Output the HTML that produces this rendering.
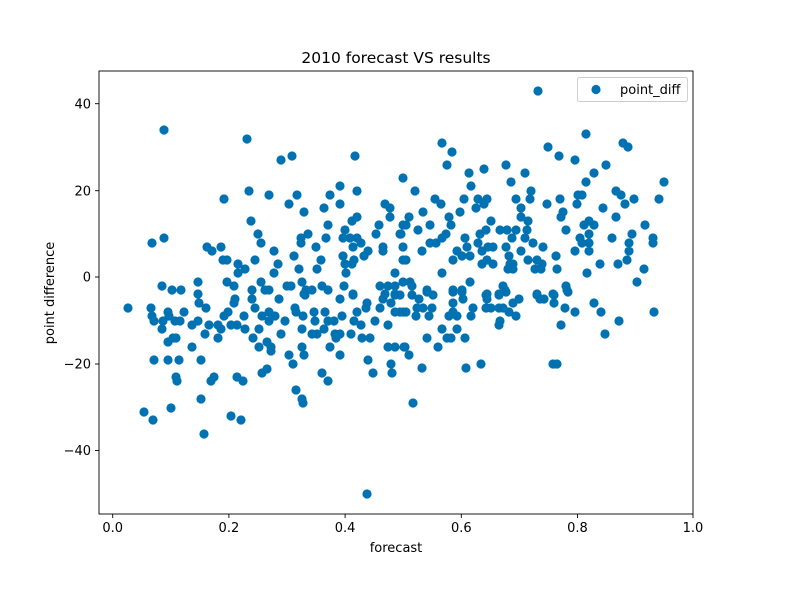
<!DOCTYPE html>
<html><head><meta charset="utf-8"><style>
html,body{margin:0;padding:0;background:#fff;}
svg{display:block;font-family:"DejaVu Sans","Liberation Sans",sans-serif;}
</style></head><body>
<svg width="792" height="602" viewBox="0 0 792 602" xmlns="http://www.w3.org/2000/svg">
<rect width="792" height="602" fill="#fff"/>
<path fill="none" stroke="#0072b2" stroke-width="9.2" stroke-linecap="round" d="
M164 130h0M247 139h0M281 160h0M292 156h0M355 156h0M403 178h0M224 199h0M249 191h0M269 195h0M289 204h0M297 195h0M304 212h0M340 186h0M340 204h0M330 195h0M324 208h0M357 191h0M385 204h0M390 208h0M390 217h0M379 225h0M376 234h0M403 225h0M401 234h0M403 247h0M251 221h0M258 234h0M261 243h0M152 243h0M164 238h0M207 247h0M212 251h0M221 247h0M223 260h0M227 260h0M238 264h0M238 273h0M245 269h0M255 260h0M274 251h0M278 264h0M274 273h0M294 256h0M299 269h0M301 238h0M301 243h0M308 234h0M316 247h0M321 260h0M317 269h0M326 238h0M328 225h0M345 230h0M343 238h0M350 238h0M357 238h0M353 247h0M361 243h0M352 221h0M357 217h0M343 256h0M345 264h0M354 260h0M352 264h0M346 273h0M364 256h0M368 251h0M383 247h0M383 251h0M395 273h0M403 260h0M403 282h0M162 286h0M172 290h0M181 290h0M198 282h0M198 294h0M227 282h0M234 286h0M252 290h0M261 282h0M265 290h0M269 290h0M287 286h0M291 286h0M302 282h0M306 290h0M312 290h0M304 294h0M322 286h0M328 290h0M344 286h0M353 294h0M380 286h0M388 286h0M395 286h0M385 294h0M395 294h0
M128 308h0M151 308h0M152 316h0M154 321h0M163 321h0M168 312h0M169 316h0M175 321h0M180 321h0M162 329h0M168 342h0M173 338h0M176 338h0M154 360h0M168 360h0M179 360h0M176 377h0M177 381h0M144 412h0M153 420h0M171 408h0M201 399h0M204 434h0M231 416h0M241 420h0M237 377h0M243 381h0M211 381h0M214 377h0M201 360h0M192 347h0M192 325h0M198 321h0M184 312h0M199 303h0M206 308h0M205 334h0M209 325h0M218 325h0M221 329h0M218 338h0M224 316h0M228 312h0M231 325h0M237 325h0M234 303h0M235 299h0M245 329h0M244 316h0M252 299h0M255 308h0M253 338h0M259 329h0M259 347h0M262 316h0M267 342h0M271 347h0M271 351h0M262 373h0M267 369h0M269 312h0M275 316h0M269 321h0M279 299h0M281 334h0M285 321h0M289 355h0M293 364h0M295 308h0M296 312h0M303 316h0M302 329h0M302 347h0M304 355h0M296 390h0M302 399h0M303 403h0M305 295h0M314 312h0M315 321h0M312 334h0M317 334h0M325 312h0M324 329h0M330 347h0M322 373h0M328 381h0M328 321h0M334 321h0M335 334h0M336 338h0M340 334h0M342 316h0M340 355h0M340 299h0M351 334h0M353 295h0M354 321h0M357 312h0M361 325h0M362 338h0M370 338h0M368 360h0M373 373h0M375 321h0M367 303h0M366 308h0M380 308h0M383 299h0M388 325h0M391 303h0M388 347h0M395 347h0M391 364h0M392 373h0M395 295h0M395 312h0M403 312h0M404 347h0M367 494h0
M538 91h0M442 143h0M452 152h0M447 165h0M469 173h0M471 186h0M484 169h0M506 165h0M511 182h0M525 173h0M531 191h0M530 199h0M516 199h0M521 208h0M521 217h0M528 221h0M527 230h0M525 238h0M533 243h0M543 247h0M548 147h0M559 156h0M575 160h0M586 134h0M623 143h0M628 147h0M606 165h0M594 173h0M586 182h0M582 195h0M578 195h0M577 204h0M560 199h0M547 204h0M563 212h0M561 217h0M566 230h0M584 225h0M589 221h0M594 225h0M580 238h0M582 243h0M589 234h0M589 243h0M589 251h0M575 251h0M556 256h0M557 269h0M537 260h0M535 269h0M542 264h0M541 269h0M528 260h0M521 251h0M516 230h0M512 238h0M507 230h0M500 230h0M506 247h0M509 256h0M510 264h0M513 264h0M508 269h0M513 269h0M491 221h0M486 230h0M480 234h0M478 243h0M482 251h0M488 247h0M493 247h0M487 260h0M493 264h0M482 264h0M476 208h0M478 199h0M487 199h0M484 204h0M464 199h0M460 212h0M465 238h0M467 247h0M470 256h0M462 256h0M457 251h0M453 260h0M451 225h0M449 217h0M446 234h0M442 238h0M436 243h0M430 243h0M430 225h0M441 204h0M435 199h0M423 212h0M415 191h0M409 217h0M406 225h0M400 234h0M418 230h0M406 260h0M422 251h0M442 273h0M470 282h0M453 290h0M462 290h0M427 290h0M410 282h0M412 286h0M487 294h0M499 294h0M503 286h0M505 290h0M537 294h0M553 294h0M566 286h0M567 290h0M587 273h0M600 264h0M618 264h0M627 260h0M629 251h0M629 243h0M632 234h0M612 238h0M616 217h0M603 208h0M616 191h0M621 195h0M625 204h0M634 199h0M645 225h0M653 238h0M653 243h0M659 199h0M664 182h0M644 269h0M637 282h0
M412 295h0M400 295h0M400 312h0M406 312h0M405 347h0M409 355h0M416 316h0M417 308h0M419 299h0M423 308h0M427 292h0M432 308h0M429 316h0M433 295h0M427 338h0M422 368h0M413 403h0M438 347h0M442 329h0M447 338h0M451 338h0M449 316h0M453 303h0M453 312h0M457 316h0M453 292h0M462 292h0M463 299h0M457 329h0M465 338h0M471 316h0M473 308h0M466 368h0M481 364h0M486 295h0M487 299h0M486 308h0M491 308h0M499 295h0M499 308h0M503 308h0M506 292h0M509 312h0M513 303h0M519 299h0M516 316h0M500 321h0M499 325h0M537 295h0M540 299h0M544 299h0M554 295h0M554 303h0M568 292h0M565 308h0M575 312h0M561 325h0M553 364h0M557 364h0M594 303h0M601 312h0M605 334h0M619 321h0M654 312h0"/>
<rect x="99" y="71" width="594" height="443" fill="none" stroke="#000" stroke-width="0.9"/>
<g stroke="#000" stroke-width="0.9">
<line x1="112.7" y1="514" x2="112.7" y2="518"/><line x1="228.9" y1="514" x2="228.9" y2="518"/><line x1="345.1" y1="514" x2="345.1" y2="518"/><line x1="461.3" y1="514" x2="461.3" y2="518"/><line x1="577.5" y1="514" x2="577.5" y2="518"/><line x1="693" y1="514" x2="693" y2="518"/>
<line x1="95" y1="103.7" x2="99" y2="103.7"/><line x1="95" y1="190.7" x2="99" y2="190.7"/><line x1="95" y1="277" x2="99" y2="277"/><line x1="95" y1="364" x2="99" y2="364"/><line x1="95" y1="450.5" x2="99" y2="450.5"/>
</g>
<g font-size="13" text-anchor="middle" fill="#000">
<text x="112.7" y="532">0.0</text><text x="228.9" y="532">0.2</text><text x="345.1" y="532">0.4</text><text x="461.3" y="532">0.6</text><text x="577.5" y="532">0.8</text><text x="693" y="532">1.0</text>
</g>
<g font-size="13" text-anchor="end" fill="#000">
<text x="91" y="108.5">40</text><text x="91" y="195.5">20</text><text x="91" y="281.5">0</text><text x="91" y="368.5">−20</text><text x="91" y="455">−40</text>
</g>
<text x="396" y="552" font-size="13" text-anchor="middle">forecast</text>
<text transform="translate(54,293) rotate(-90)" font-size="13" text-anchor="middle">point difference</text>
<text x="396" y="63" font-size="15.5" text-anchor="middle">2010 forecast VS results</text>
<rect x="577.5" y="77.5" width="110" height="24" rx="2" fill="#fff" fill-opacity="0.8" stroke="#ccc" stroke-width="0.9"/>
<circle cx="596" cy="89.5" r="4.6" fill="#0072b2"/>
<text x="620" y="94" font-size="13">point_diff</text>
</svg>
</body></html>
